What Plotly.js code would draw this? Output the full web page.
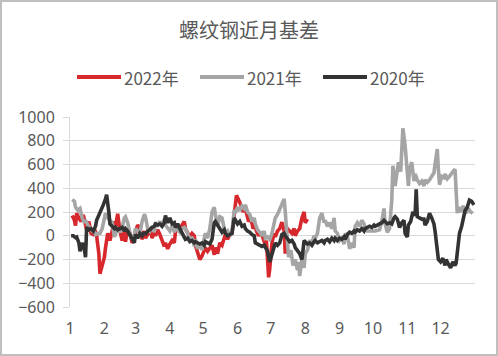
<!DOCTYPE html>
<html>
<head>
<meta charset="utf-8">
<script src="https://cdn.plot.ly/plotly-3.0.1.min.js"></script>
<style>
html,body{margin:0;padding:0;background:#fff;}
#wrap{position:relative;width:498px;height:356px;}
#chart{width:498px;height:356px;}
#border{position:absolute;left:0;top:0;width:498px;height:356px;box-sizing:border-box;border:2px solid #bfbfbf;pointer-events:none;}
</style>
</head>
<body>
<div id="wrap"><div id="chart"></div><div id="border"></div></div>
<script>
// x values: day of year (0 = 1 Jan)
const day2022 = [2,4,5,6,8,10,12,14,15,17,19,21,23,24,26,27,29,31,32,34,36,38,40,41,43,45,47,49,50,52,54,56,58,59,61,63,65,67,68,70,72,74,76,77,79,81,83,85,86,88,90,92,94,95,97,99,101,103,104,106,108,110,112,113,115,117,119,121,122,124,126,128,130,131,133,135,137,139,140,142,144,146,148,150,152,154,156,158,159,161,163,165,167,168,170,172,174,176,177,179,180,182,184,185,187,189,191,193,194,195,196,198,200,202,203,205,207,209,211,212,214];
const val2022 = [170,130,85,190,150,120,175,110,50,120,20,10,30,0,-150,-320,-260,-180,-100,20,-40,60,120,80,185,40,-40,30,-50,60,20,-60,10,40,90,60,-30,40,-20,10,70,-20,30,0,50,10,-50,-90,-60,-110,-70,-40,-60,30,60,40,90,120,60,20,-10,20,0,-80,-130,-200,-170,-120,-100,-130,-110,-80,-160,-100,-150,-60,-80,-20,10,-30,10,20,200,340,300,260,200,250,190,120,150,60,90,40,0,30,-20,-80,-40,-350,-280,-60,20,-10,40,60,115,40,-150,30,60,40,20,60,0,40,60,150,200,110,140];

const day2021 = [2,4,5,7,9,11,13,14,16,18,20,22,23,25,27,29,31,32,34,36,38,40,41,43,45,47,49,50,52,54,56,58,59,61,63,65,67,68,70,72,74,76,77,79,81,83,85,86,88,90,92,94,95,97,99,101,103,104,106,108,110,112,113,115,117,119,121,122,124,126,128,130,131,133,135,137,139,140,142,144,146,148,149,151,153,155,157,158,160,162,164,166,167,169,171,173,175,176,178,180,182,184,185,187,189,191,193,194,196,197,199,201,203,205,206,207,209,211,212,214,216,218,220,221,223,225,227,229,230,232,234,236,238,239,241,243,245,247,248,250,252,254,256,257,259,261,263,265,266,268,272,275,279,281,283,284,286,288,290,291,293,294,296,298,300,302,303,305,306,308,310,311,313,315,317,319,320,322,324,326,328,329,331,332,333,335,337,338,340,342,344,346,347,349,350,352,354,356,357,359,361,363];
const val2021 = [305,290,240,215,230,150,110,130,90,60,40,30,10,20,20,60,150,190,150,130,110,-10,20,60,30,70,150,160,110,20,-30,10,60,40,20,120,180,160,60,40,80,30,110,90,120,80,140,90,60,40,80,30,60,50,30,60,70,60,20,-40,-10,-90,-30,-110,-60,-120,-20,20,-20,60,200,240,180,80,160,150,60,20,40,0,30,220,190,240,210,250,230,260,200,180,120,150,100,50,30,0,40,-20,-10,-30,20,90,150,180,220,270,310,200,-60,-180,-120,-250,-200,-290,-220,-340,-200,-270,-150,-120,-40,-60,0,-20,20,150,190,110,130,80,110,60,150,40,20,-40,-20,-70,20,0,-110,-60,-100,80,110,80,130,100,60,40,40,40,50,120,230,100,30,60,300,590,420,480,620,540,905,760,620,420,560,620,460,520,470,440,460,420,470,450,470,500,530,600,730,560,430,500,490,520,480,500,530,550,560,190,240,200,250,220,190,230,200,190];

const day2020 = [1,3,5,6,8,9,11,13,14,15,17,19,21,23,24,26,28,30,32,33,35,36,38,40,41,43,45,47,49,50,52,54,56,58,59,61,63,65,67,68,70,72,74,76,77,79,81,83,85,86,88,90,92,94,95,97,99,101,103,104,106,108,110,112,113,115,117,119,121,122,124,126,128,130,131,133,135,137,139,140,142,144,146,148,149,151,153,155,157,158,160,162,164,166,167,169,171,173,175,176,178,180,182,184,185,187,189,191,193,194,196,198,200,202,203,205,207,209,211,212,214,216,218,220,221,223,225,227,229,230,232,234,236,238,239,241,243,245,247,248,250,252,254,256,257,259,261,263,265,266,268,270,272,274,275,277,279,281,283,284,286,288,290,292,293,295,297,299,301,302,304,305,307,309,311,312,313,315,317,319,320,322,324,326,328,329,331,332,334,336,338,339,341,343,345,347,348,350,351,353,355,356,358,360,362,364];
const val2020 = [0,0,-15,-10,-60,-130,-60,-120,-180,70,50,60,40,80,130,170,210,260,310,345,200,100,80,60,70,50,60,70,40,60,40,10,-30,-60,10,-20,20,0,30,10,40,50,70,80,100,90,100,80,110,170,110,150,100,110,70,100,60,20,-10,-30,-20,-50,-40,-60,-50,-60,-70,-60,-80,-50,-60,-70,-30,110,120,90,70,30,50,20,0,10,20,150,130,100,120,80,90,60,40,30,10,0,-60,-70,-80,-90,-80,-100,-130,-220,-150,-80,-60,-80,-60,10,20,0,-30,-50,-40,-70,-100,-130,-150,-200,-40,-50,-70,-60,-80,-50,-40,-60,-50,-40,-60,-40,-30,-50,-20,-40,-20,-40,-20,-30,-10,-30,10,30,20,40,30,50,40,60,40,60,70,80,70,90,80,90,100,110,130,120,100,110,100,150,160,140,70,110,130,20,-10,90,120,200,170,390,160,150,140,140,90,120,190,150,100,40,-150,-200,-220,-190,-250,-200,-240,-270,-220,-250,-230,-20,20,80,150,210,240,300,290,260];

const seriesNames = ['2022年','2021年','2020年'];
const seriesColors = ['#D7282E','#A5A5A5','#333333'];
const monthStartDays = [0,31,59,90,120,151,181,212,243,273,304,334];
const monthLabels = ['1','2','3','4','5','6','7','8','9','10','11','12'];
const yTicks = [-600,-400,-200,0,200,400,600,800,1000];

const xs = [day2022, day2021, day2020];
const ys = [val2022, val2021, val2020];

const traces = xs.map((x,i)=>({
  x: x, y: ys[i], name: seriesNames[i], type:'scatter', mode:'lines',
  line:{color:seriesColors[i], width:3.6, shape:'linear'},
  hoverinfo:'skip', showlegend:false
}));

// Manual legend (layout geometry in pixels, converted to paper coordinates)
const M = {l:70, r:23, t:117, b:49}, W = 498, H = 356;
const pw = W - M.l - M.r, ph = H - M.t - M.b;
const px2x = p => (p - M.l) / pw;
const py2y = p => (H - M.b - p) / ph;
const legY = 77, legStart = 77, legStep = 123, legLine = 44, legGap = 2;
const shapes = [], annotations = [];
seriesNames.forEach((n,i)=>{
  const x0 = legStart + i*legStep;
  shapes.push({type:'line', xref:'paper', yref:'paper', x0:px2x(x0), x1:px2x(x0+legLine),
               y0:py2y(legY), y1:py2y(legY), line:{color:seriesColors[i], width:4}});
  annotations.push({xref:'paper', yref:'paper', x:px2x(x0+legLine+legGap), y:py2y(legY),
               xanchor:'left', yanchor:'middle', showarrow:false, text:n, borderpad:0,
               font:{family:'Noto Sans CJK SC, Noto Sans, sans-serif', size:17, color:'#595959'}});
});

const font = 'Noto Sans CJK SC, Noto Sans, sans-serif';
const tickFont = {family:'Noto Sans, Noto Sans CJK SC, sans-serif', size:16, color:'#595959'};
const layout = {
  width:W, height:H,
  margin:M,
  paper_bgcolor:'#ffffff', plot_bgcolor:'#ffffff',
  font:{family:font, color:'#595959', size:15},
  title:{text:'螺纹钢近月基差', font:{family:font, size:20, color:'#595959'},
         xref:'container', x:0.5, xanchor:'center', yref:'container', y:1-31/356, yanchor:'middle'},
  showlegend:false,
  shapes:shapes, annotations:annotations,
  xaxis:{range:[0,365], tickmode:'array', tickvals:monthStartDays, ticktext:monthLabels,
         showgrid:false, zeroline:false, showline:false, ticks:'', ticklabelstandoff:10,
         tickfont:tickFont, fixedrange:true},
  yaxis:{range:[-600,1000], tickmode:'array', tickvals:yTicks, showgrid:true, gridcolor:'#D9D9D9', gridwidth:1,
         zeroline:true, zerolinecolor:'#D9D9D9', zerolinewidth:1,
         showline:true, linecolor:'#D9D9D9', linewidth:1,
         ticks:'outside', ticklen:6, tickcolor:'#D9D9D9', ticklabelstandoff:5,
         tickfont:tickFont, fixedrange:true}
};

Plotly.newPlot('chart', traces, layout, {displayModeBar:false, staticPlot:true});
</script>
</body>
</html>
